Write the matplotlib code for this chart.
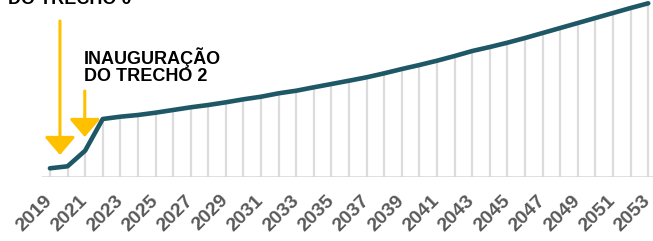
import matplotlib
matplotlib.use("Agg")
import matplotlib.pyplot as plt

years = list(range(2019, 2054))
values = [8.7, 10.7, 26.3, 58.0, 60.3, 62.0, 64.3, 67.0, 69.7, 72.0,
          74.7, 77.7, 80.3, 83.7, 86.3, 89.7, 93.0, 96.3, 99.7, 103.7,
          108.0, 112.0, 116.3, 121.0, 126.0, 130.0, 134.3, 139.0, 144.0, 149.0,
          154.0, 159.0, 164.0, 169.0, 173.7]
tick_years = list(range(2019, 2054, 2))
annot_texts = ["INAUGURAÇÃO\nDO TRECHO 0", "INAUGURAÇÃO\nDO TRECHO 2"]

plt.rcParams['font.family'] = ['Liberation Sans', 'DejaVu Sans']

fig = plt.figure(figsize=(6.53, 2.41), dpi=100)
ax = fig.add_axes([42/653, 64/241, 611/653, 177/241])
ax.set_xlim(2018.55, 2053.27)
ax.set_ylim(0, 177)

line_color = '#1E5866'
gold = '#FFC000'

ax.vlines(years, 0, values, colors='#dcdcdc', linewidth=1.6, zorder=1)
ax.axhline(0, color='#d6d6d6', linewidth=1.8, zorder=1)
ax.plot(years, values, color=line_color, linewidth=3.3, solid_capstyle='round',
        solid_joinstyle='round', zorder=3)

for s in ax.spines.values():
    s.set_visible(False)
ax.set_yticks([])
ax.set_xticks(tick_years)
ax.tick_params(axis='x', length=0, pad=15)
ax.set_xticklabels([str(y) for y in tick_years], rotation=45, ha='right',
                   va='center', rotation_mode='anchor', fontsize=14,
                   fontweight='bold', color='#595959')

# arrows
arrows = [(2019.57, 156, 22), (2020.98, 86, 40)]
for x, top, tip in arrows:
    ax.annotate('', xy=(x, tip), xytext=(x, top),
                arrowprops=dict(arrowstyle='-|>,head_length=11,head_width=9.4',
                                mutation_scale=1, color=gold, lw=2.2,
                                shrinkA=0, shrinkB=0), zorder=4)

ax.text(2016.6, 169.2, annot_texts[0], ha='left', va='bottom', fontsize=13,
        fontweight='bold', color='black', linespacing=1.0, clip_on=False)
ax.text(2020.93, 130, annot_texts[1], ha='left', va='top', fontsize=13,
        fontweight='bold', color='black', linespacing=1.0)

fig.savefig('out.png', dpi=100)
